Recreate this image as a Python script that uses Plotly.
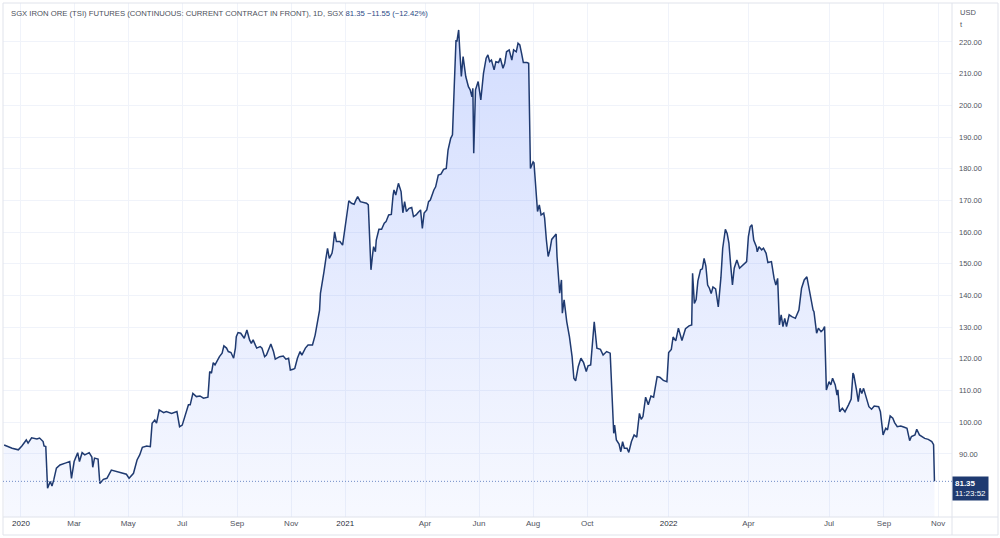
import plotly.graph_objects as go

# ---------------- data ----------------
dates_2020 = [
    "2019-12-13", "2019-12-22", "2019-12-29", "2020-01-02", "2020-01-07", "2020-01-09", "2020-01-13",
    "2020-01-19", "2020-01-22", "2020-01-26", "2020-01-27", "2020-01-29", "2020-01-31", "2020-02-03",
    "2020-02-05", "2020-02-07", "2020-02-10", "2020-02-14", "2020-02-20", "2020-02-25", "2020-02-27",
    "2020-03-01", "2020-03-05", "2020-03-07", "2020-03-10", "2020-03-13", "2020-03-18", "2020-03-21",
    "2020-03-22", "2020-03-24", "2020-03-28", "2020-03-30", "2020-04-03", "2020-04-07", "2020-04-12",
    "2020-04-18", "2020-04-24", "2020-04-29", "2020-05-02", "2020-05-07", "2020-05-11", "2020-05-14",
    "2020-05-17", "2020-05-22", "2020-05-26", "2020-05-28", "2020-05-31", "2020-06-02", "2020-06-05",
    "2020-06-10", "2020-06-13", "2020-06-19", "2020-06-25", "2020-06-28", "2020-07-01", "2020-07-04",
    "2020-07-08", "2020-07-10", "2020-07-13", "2020-07-17", "2020-07-21", "2020-07-25", "2020-07-30",
    "2020-07-31", "2020-08-01", "2020-08-03", "2020-08-05", "2020-08-07", "2020-08-10", "2020-08-12",
    "2020-08-15", "2020-08-17", "2020-08-20", "2020-08-22", "2020-08-25", "2020-08-28", "2020-08-30",
    "2020-08-31", "2020-09-02", "2020-09-05", "2020-09-09", "2020-09-12", "2020-09-15", "2020-09-17",
    "2020-09-19", "2020-09-23", "2020-09-27", "2020-09-29", "2020-10-02", "2020-10-04", "2020-10-09",
    "2020-10-12", "2020-10-14", "2020-10-19", "2020-10-23", "2020-10-26", "2020-10-29", "2020-10-31",
    "2020-11-03", "2020-11-05", "2020-11-08", "2020-11-11", "2020-11-13", "2020-11-17", "2020-11-20",
    "2020-11-25", "2020-11-28", "2020-11-30", "2020-12-03", "2020-12-04", "2020-12-06", "2020-12-08",
    "2020-12-10", "2020-12-12", "2020-12-14", "2020-12-17", "2020-12-18", "2020-12-20", "2020-12-22",
    "2020-12-26", "2020-12-29",
]
prices_2020 = [
    92.8, 91.8, 91.3, 92.5, 94.4, 93.4, 95.1,
    94.7, 95.0, 93.9, 92.5, 92.3, 79.2, 81.3,
    79.9, 81.8, 85.5, 86.5, 87.1, 87.6, 82.3,
    87.6, 90.4, 87.6, 90.4, 89.7, 90.4, 89.0,
    85.8, 88.7, 88.4, 80.7, 82.0, 82.3, 84.9,
    84.4, 83.9, 83.6, 82.3, 83.9, 88.1, 89.7,
    92.1, 92.5, 92.3, 99.7, 100.7, 99.7, 103.9,
    103.0, 103.4, 102.8, 103.4, 98.6, 99.1, 101.8,
    105.5, 105.5, 109.1, 108.1, 108.3, 107.6, 107.9,
    111.8, 116.0, 115.5, 118.8, 118.1, 119.9, 120.7,
    121.8, 124.1, 123.4, 122.3, 122.0, 120.2, 123.4,
    127.0, 128.3, 128.1, 126.5, 129.1, 126.0, 124.9,
    126.0, 123.4, 123.9, 123.4, 120.7, 121.2, 124.7,
    122.3, 119.9, 120.7, 120.9, 119.9, 120.2, 116.5,
    116.7, 117.0, 120.2, 122.3, 121.2, 123.4, 124.4,
    124.4, 127.5, 130.7, 135.4, 140.7, 144.9, 147.5,
    151.4, 154.9, 151.7, 153.3, 154.9, 160.1, 157.0,
    157.0, 155.9,
]

dates_2021 = [
    "2021-01-01", "2021-01-03", "2021-01-05", "2021-01-08", "2021-01-11", "2021-01-13", "2021-01-15",
    "2021-01-18", "2021-01-21", "2021-01-25", "2021-01-27", "2021-01-29", "2021-01-30", "2021-02-01",
    "2021-02-02", "2021-02-04", "2021-02-05", "2021-02-08", "2021-02-11", "2021-02-14", "2021-02-16",
    "2021-02-19", "2021-02-22", "2021-02-24", "2021-02-25", "2021-02-27", "2021-03-02", "2021-03-05",
    "2021-03-07", "2021-03-09", "2021-03-11", "2021-03-14", "2021-03-17", "2021-03-19", "2021-03-22",
    "2021-03-24", "2021-03-27", "2021-03-29", "2021-03-31", "2021-04-03", "2021-04-05", "2021-04-07",
    "2021-04-09", "2021-04-11", "2021-04-13", "2021-04-16", "2021-04-19", "2021-04-22", "2021-04-25",
    "2021-04-27", "2021-04-30", "2021-05-02", "2021-05-04", "2021-05-06", "2021-05-07", "2021-05-09",
    "2021-05-10", "2021-05-12", "2021-05-14", "2021-05-17", "2021-05-20", "2021-05-22", "2021-05-24",
    "2021-05-25", "2021-05-26", "2021-05-28", "2021-05-31", "2021-06-03", "2021-06-06", "2021-06-09",
    "2021-06-11", "2021-06-13", "2021-06-15", "2021-06-18", "2021-06-20", "2021-06-23", "2021-06-25",
    "2021-06-28", "2021-06-30", "2021-07-02", "2021-07-05", "2021-07-08", "2021-07-10", "2021-07-13",
    "2021-07-15", "2021-07-17", "2021-07-19", "2021-07-21", "2021-07-25", "2021-07-27", "2021-07-29",
    "2021-08-01", "2021-08-02", "2021-08-04", "2021-08-06", "2021-08-08", "2021-08-10", "2021-08-13",
    "2021-08-14", "2021-08-16", "2021-08-18", "2021-08-20", "2021-08-22", "2021-08-27", "2021-08-28",
    "2021-08-31", "2021-09-02", "2021-09-03", "2021-09-05", "2021-09-08", "2021-09-11", "2021-09-14",
    "2021-09-16", "2021-09-18", "2021-09-21", "2021-09-24", "2021-09-27", "2021-09-30", "2021-10-02",
    "2021-10-05", "2021-10-09", "2021-10-12", "2021-10-16", "2021-10-19", "2021-10-23", "2021-10-27",
    "2021-10-29", "2021-10-31", "2021-11-01", "2021-11-03", "2021-11-06", "2021-11-08", "2021-11-10",
    "2021-11-12", "2021-11-15", "2021-11-17", "2021-11-20", "2021-11-23", "2021-11-26", "2021-11-29",
    "2021-12-01", "2021-12-03", "2021-12-06", "2021-12-09", "2021-12-12", "2021-12-15", "2021-12-19",
    "2021-12-22", "2021-12-26", "2021-12-30",
]
prices_2021 = [
    162.3, 166.5, 169.9, 169.1, 168.8, 170.1, 171.2,
    169.6, 169.3, 169.1, 168.6, 155.4, 148.1, 153.3,
    155.4, 153.8, 157.5, 160.9, 160.9, 162.8, 163.3,
    165.4, 165.6, 171.7, 173.3, 171.7, 175.4, 172.8,
    166.1, 169.6, 166.5, 167.5, 167.8, 164.9, 165.4,
    166.1, 167.0, 161.2, 166.0, 167.0, 169.6, 170.1,
    172.0, 173.3, 174.3, 178.0, 178.3, 179.8, 180.1,
    185.9, 189.6, 190.7, 205.9, 220.6, 220.1, 223.8,
    218.5, 209.1, 215.4, 209.1, 205.9, 204.9, 202.7,
    205.4, 184.9, 204.9, 207.5, 201.7, 210.1, 214.9,
    215.9, 213.8, 214.3, 211.2, 213.8, 213.5, 214.9,
    211.7, 213.3, 216.9, 217.5, 214.3, 217.5, 216.9,
    219.6, 219.1, 216.4, 213.5, 213.5, 213.3, 180.1,
    182.2, 181.9, 173.3, 166.5, 168.6, 165.4, 166.0,
    164.4, 157.5, 152.3, 154.4, 157.7, 159.4, 152.3,
    140.7, 144.9, 134.4, 138.6, 131.7, 127.0, 120.7,
    113.9, 113.1, 117.6, 120.2, 118.8, 116.0, 117.8,
    118.1, 131.7, 123.4, 123.0, 121.2, 122.3, 121.8,
    107.0, 96.5, 99.1, 94.4, 93.1, 90.7, 93.9,
    91.8, 91.8, 90.5, 93.9, 96.0, 95.3, 102.8,
    100.9, 101.8, 107.9, 105.5, 108.3, 107.9, 114.4,
    114.2, 113.2, 112.8,
]

dates_2022 = [
    "2022-01-01", "2022-01-04", "2022-01-06", "2022-01-09", "2022-01-12", "2022-01-16", "2022-01-20",
    "2022-01-24", "2022-01-27", "2022-01-28", "2022-01-30", "2022-02-01", "2022-02-03", "2022-02-06",
    "2022-02-08", "2022-02-10", "2022-02-12", "2022-02-14", "2022-02-16", "2022-02-18", "2022-02-20",
    "2022-02-23", "2022-02-26", "2022-03-01", "2022-03-03", "2022-03-06", "2022-03-08", "2022-03-10",
    "2022-03-12", "2022-03-14", "2022-03-16", "2022-03-19", "2022-03-22", "2022-03-26", "2022-03-30",
    "2022-04-01", "2022-04-03", "2022-04-05", "2022-04-07", "2022-04-10", "2022-04-11", "2022-04-13",
    "2022-04-16", "2022-04-18", "2022-04-21", "2022-04-23", "2022-04-27", "2022-04-30", "2022-05-02",
    "2022-05-04", "2022-05-06", "2022-05-08", "2022-05-10", "2022-05-12", "2022-05-14", "2022-05-17",
    "2022-05-20", "2022-05-24", "2022-05-28", "2022-05-31", "2022-06-03", "2022-06-06", "2022-06-08",
    "2022-06-10", "2022-06-13", "2022-06-14", "2022-06-17", "2022-06-19", "2022-06-22", "2022-06-24",
    "2022-06-26", "2022-06-28", "2022-07-01", "2022-07-03", "2022-07-05", "2022-07-08", "2022-07-10",
    "2022-07-11", "2022-07-13", "2022-07-16", "2022-07-19", "2022-07-23", "2022-07-26", "2022-07-28",
    "2022-07-29", "2022-08-01", "2022-08-03", "2022-08-05", "2022-08-07", "2022-08-09", "2022-08-13",
    "2022-08-15", "2022-08-18", "2022-08-21", "2022-08-26", "2022-08-28", "2022-08-31", "2022-09-03",
    "2022-09-05", "2022-09-08", "2022-09-11", "2022-09-13", "2022-09-16", "2022-09-20", "2022-09-24",
    "2022-09-27", "2022-09-30", "2022-10-02", "2022-10-06", "2022-10-08", "2022-10-11", "2022-10-14",
    "2022-10-17", "2022-10-21", "2022-10-25", "2022-10-27", "2022-10-28",
]
prices_2022 = [
    122.0, 123.0, 126.9, 125.7, 129.7, 125.8, 129.5,
    130.4, 130.7, 147.0, 137.5, 138.7, 144.6, 148.1,
    148.4, 151.7, 149.3, 143.3, 142.3, 140.6, 142.7,
    142.1, 136.4, 145.7, 154.9, 160.9, 159.6, 156.5,
    149.6, 143.3, 148.6, 151.2, 148.6, 149.6, 150.7,
    158.6, 161.7, 162.3, 157.5, 155.4, 153.8, 155.4,
    154.4, 154.9, 153.3, 150.4, 150.7, 145.4, 143.3,
    145.4, 130.7, 133.9, 130.2, 132.8, 130.2, 133.9,
    133.3, 132.8, 135.4, 142.3, 144.9, 145.9, 142.8,
    139.6, 135.4, 134.9, 128.1, 129.7, 128.6, 129.1,
    130.2, 110.2, 112.8, 111.8, 113.9, 111.8, 108.6,
    110.2, 103.3, 104.4, 103.3, 105.5, 107.3, 115.5,
    114.9, 110.2, 106.5, 110.7, 109.1, 110.7, 107.0,
    104.9, 104.1, 105.1, 104.9, 103.3, 96.0, 98.1,
    97.6, 102.0, 101.3, 99.9, 98.6, 98.8, 98.4,
    98.1, 94.2, 95.5, 96.0, 97.8, 96.0, 95.3,
    94.9, 94.6, 93.9, 92.9, 81.35,
]

tick_dates = ["2020-01-01", "2020-03-01", "2020-05-01", "2020-07-01", "2020-09-01", "2020-11-01",
              "2021-01-01", "2021-04-01", "2021-06-01", "2021-08-01", "2021-10-01",
              "2022-01-01", "2022-04-01", "2022-07-01", "2022-09-01", "2022-11-01"]
tick_labels = ["2020", "Mar", "May", "Jul", "Sep", "Nov", "2021", "Apr", "Jun", "Aug", "Oct",
               "2022", "Apr", "Jul", "Sep", "Nov"]
price_ticks = [90, 100, 110, 120, 130, 140, 150, 160, 170, 180, 190, 200, 210, 220]

title_text = "SGX IRON ORE (TSI) FUTURES (CONTINUOUS: CURRENT CONTRACT IN FRONT), 1D, SGX"
last_price = 81.35
change = -11.55
change_pct = -12.42
countdown = "11:23:52"
currency = "USD"
unit = "t"

# ---------------- figure ----------------
dates = dates_2020 + dates_2021 + dates_2022
prices = prices_2020 + prices_2021 + prices_2022

FONT = "Liberation Sans, Arial, sans-serif"
LINE = "#1f3a70"
BORDER = "#e0e3eb"
GRID = "#f0f3fa"
TEXT = "#50535e"

fig = go.Figure()
fig.add_trace(go.Scatter(
    x=dates, y=prices, mode="lines",
    line=dict(color=LINE, width=1.5),
    fill="tozeroy",
    fillgradient=dict(type="vertical", start=70, stop=224,
                      colorscale=[[0, "rgba(46,94,250,0.04)"], [1, "rgba(46,94,250,0.21)"]]),
    hoverinfo="skip", showlegend=False,
))

ticktext = [f"<span style='color:#2a2e39'>{t}</span>" if t.isdigit() else t for t in tick_labels]

fig.update_layout(
    width=1000, height=538,
    margin=dict(l=3, r=48, t=3, b=21, pad=0),
    paper_bgcolor="white", plot_bgcolor="white",
    font=dict(family=FONT, size=8, color=TEXT),
    showlegend=False,
    xaxis=dict(
        type="date",
        range=["2019-12-11 17:00", "2022-11-16 19:00"],
        tickmode="array", tickvals=tick_dates, ticktext=ticktext,
        showgrid=True, gridcolor=GRID, gridwidth=1,
        zeroline=False, showline=False, ticks="",
        tickfont=dict(family=FONT, size=8, color=TEXT),
        fixedrange=True,
    ),
    yaxis=dict(
        side="right",
        range=[70.1, 232.3],
        tickmode="array", tickvals=price_ticks,
        ticktext=[f"{v:.2f}" for v in price_ticks],
        showgrid=True, gridcolor=GRID, gridwidth=1,
        zeroline=False, showline=False, ticks="",
        ticklabelstandoff=6,
        tickfont=dict(family=FONT, size=7.5, color=TEXT),
        fixedrange=True,
    ),
)

xr = 995 / 949   # right frame edge relative to plot width
yb = -18 / 514   # bottom frame edge relative to plot height
shapes = [
    dict(type="rect", xref="paper", yref="paper", x0=0, x1=xr, y0=yb, y1=1,
         line=dict(color=BORDER, width=1), layer="above"),
    dict(type="line", xref="paper", yref="paper", x0=0, x1=xr, y0=0, y1=0,
         line=dict(color=BORDER, width=1), layer="above"),
    dict(type="line", xref="paper", yref="paper", x0=1, x1=1, y0=yb, y1=1,
         line=dict(color=BORDER, width=1), layer="above"),
    dict(type="line", xref="paper", yref="y", x0=0, x1=1, y0=prices[-1], y1=prices[-1],
         line=dict(color="#6f8cc7", width=1, dash="1px,2px"), layer="above"),
]
fig.update_layout(shapes=shapes)

nb = "\u00a0"
header = (f"{title_text}{nb}<span style='color:#2b4a86'>{last_price:.2f}{nb}"
          f"\u2212{abs(change):.2f}{nb}(\u2212{abs(change_pct):.2f}%)</span>")
annotations = [
    dict(xref="paper", yref="paper", x=6 / 949, y=(517 - 13) / 514, xanchor="left", yanchor="middle",
         text=header, showarrow=False, font=dict(family=FONT, size=7.7, color="#4c505b")),
    dict(xref="paper", yref="paper", x=1 + 6 / 949, y=(517 - 12) / 514, xanchor="left", yanchor="middle",
         text=currency, showarrow=False, font=dict(family=FONT, size=7.5, color=TEXT)),
    dict(xref="paper", yref="paper", x=1 + 6 / 949, y=(517 - 25) / 514, xanchor="left", yanchor="middle",
         text=unit, showarrow=False, font=dict(family=FONT, size=7.5, color=TEXT)),
    dict(xref="paper", yref="y", x=1, y=prices[-1], xanchor="left", yanchor="top", yshift=5,
         text=f"<b>{last_price:.2f}</b><br>{countdown}", align="left", showarrow=False,
         bgcolor="#1f3a70", borderpad=2, font=dict(family=FONT, size=8, color="white")),
]
fig.update_layout(annotations=annotations)

fig.write_html("out.html")
